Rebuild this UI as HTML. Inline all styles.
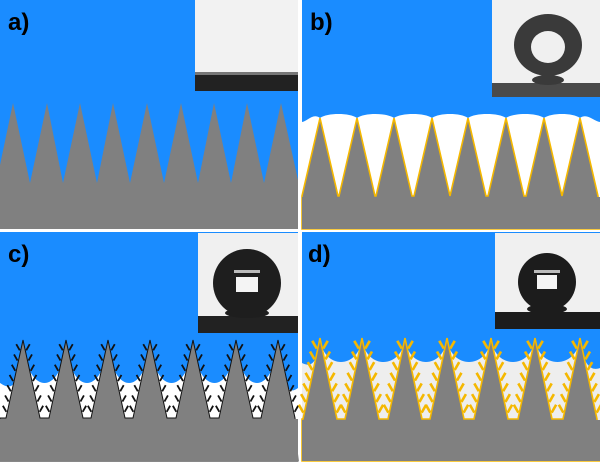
<!DOCTYPE html>
<html><head><meta charset="utf-8"><style>
html,body{margin:0;padding:0;background:#fff;width:600px;height:463px;overflow:hidden}
svg{display:block}
text{font-family:"Liberation Sans",sans-serif;font-weight:bold;font-size:24px;fill:#000}
</style></head><body>
<svg id="s" width="600" height="463" viewBox="0 0 600 463" xmlns="http://www.w3.org/2000/svg">
<rect width="600" height="463" fill="#fff"/>
<rect x="0" y="0" width="298" height="229" fill="#1a8cff"/>
<polygon fill="#808080" points="0,165 13,103 30,183 47,103 63,183 80,103 97,183 113,103 130,183 147,103 164,183 181,103 198,183 214,103 231,183 247,103 264,183 281,103 298,180 298,229 0,229"/>
<rect x="195" y="0" width="103" height="91" fill="#f2f2f2"/>
<rect x="195" y="74" width="103" height="17" fill="#222"/>
<rect x="195" y="72" width="103" height="3" fill="#777"/>
<rect x="302" y="0" width="298" height="229" fill="#fff"/>
<g id="b"></g>
<rect x="492" y="0" width="108" height="97" fill="#f0f0f0"/>
<rect x="492" y="83" width="108" height="14" fill="#4a4a4a"/>
<path fill="#3a3a3a" fill-rule="evenodd" d="M514,45 a34,31 0 1,0 68,0 a34,31 0 1,0 -68,0 Z M531,47 a17,16 0 1,0 34,0 a17,16 0 1,0 -34,0 Z"/>
<ellipse cx="548" cy="80" rx="16" ry="5" fill="#3a3a3a"/>
<rect x="0" y="232" width="298" height="229" fill="#fff"/>
<g id="c"></g>
<rect x="198" y="233" width="100" height="100" fill="#f0f0f0"/>
<rect x="198" y="316" width="100" height="17" fill="#222"/>
<circle cx="247" cy="283" r="34" fill="#1e1e1e"/>
<ellipse cx="247" cy="313" rx="22" ry="5" fill="#1e1e1e"/>
<rect x="236" y="277" width="22" height="15" fill="#f4f4f4"/>
<rect x="234" y="270" width="26" height="3" fill="#bbb"/>
<rect x="302" y="232" width="298" height="229" fill="#eeeeee"/>
<g id="d"></g>
<rect x="495" y="233" width="105" height="96" fill="#f0f0f0"/>
<rect x="495" y="312" width="105" height="17" fill="#1c1c1c"/>
<circle cx="547" cy="282" r="29" fill="#1c1c1c"/>
<ellipse cx="547" cy="309" rx="20" ry="5" fill="#1c1c1c"/>
<rect x="537" y="275" width="20" height="14" fill="#f4f4f4"/>
<rect x="534" y="270" width="26" height="3" fill="#bbb"/>
<text x="8" y="30">a)</text>
<text x="310" y="30">b)</text>
<text x="8" y="262">c)</text>
<text x="308" y="262">d)</text>
</svg>
<script>
var NS="http://www.w3.org/2000/svg";
function el(g,t,a){var e=document.createElementNS(NS,t);for(var k in a)e.setAttribute(k,a[k]);g.appendChild(e);return e;}
function panel(id,x0,x1,y0,y1,tips,tipY,baseY,hw,B,opts){
  var g=document.getElementById(id);
  var p=tips[1]-tips[0];
  var ctrl=tipY+(B-tipY)/0.75;
  var c1=opts.cf;
  var d="M"+x0+","+y0+" L"+x1+","+y0+" L"+x1+","+opts.edgeR;
  var last=tips[tips.length-1];
  d+=" C"+(x1-(x1-last)*0.3)+","+(opts.edgeR+(ctrl-B)*0.3)+" "+(last+p*c1)+","+ctrl+" "+last+","+tipY;
  for(var i=tips.length-1;i>0;i--){
    var a=tips[i-1],b=tips[i];
    d+=" C"+(b-p*c1)+","+ctrl+" "+(a+p*c1)+","+ctrl+" "+a+","+tipY;
  }
  var f=tips[0];
  d+=" C"+(f-p*c1)+","+ctrl+" "+(x0+(f-x0)*0.3)+","+(opts.edgeL+(ctrl-B)*0.3)+" "+x0+","+opts.edgeL+" Z";
  el(g,"path",{d:d,fill:"#1a8cff"});
  var s="M"+x0+","+y1+" L"+x0+","+(opts.leftStart);
  for(var i=0;i<tips.length;i++){
    var t=tips[i];
    if(i>0||t-hw>x0) s+=" L"+Math.max(x0,t-hw)+","+ (t-hw<x0?tipY+(baseY-tipY)*(t-x0)/hw:baseY);
    s+=" L"+t+","+tipY+" L"+Math.min(x1,t+hw)+","+(t+hw>x1?tipY+(baseY-tipY)*(x1-t)/hw:baseY);
  }
  s+=" L"+x1+","+y1+" Z";
  el(g,"path",{d:s,fill:"#808080",stroke:opts.outline||"none","stroke-width":opts.ow||0,"stroke-linejoin":"miter"});
  el(g,"rect",{x:x0,y:baseY+1,width:x1-x0,height:y1-baseY-1,fill:"#808080"});
  if(opts.hair){
    for(var i=0;i<tips.length;i++){
      var t=tips[i];
      for(var k=0;k<opts.n;k++){
        var fr=(k+1)/(opts.n+0.6);
        var yy=tipY+fr*(baseY-tipY);
        var dx=hw*(yy-tipY)/(baseY-tipY);
        [-1,1].forEach(function(sg){
          var sx=t+sg*(dx+1), sy=yy;
          if(sx<x0+1||sx>x1-1)return;
          var ex=sx+sg*opts.hl*0.5, ey=sy-opts.hl*0.87;
          el(g,"line",{x1:sx,y1:sy,x2:ex,y2:ey,stroke:opts.hair,"stroke-width":opts.hw,"stroke-linecap":"butt"});
        });
      }
    }
  }
}
panel("b",302,600,0,229,[320,357,394,432,468,506,544,580],118,196,18,114,{cf:0.2,edgeR:122,edgeL:122,leftStart:196,outline:"#f5b800",ow:1.6});
panel("c",0,298,232,461,[23,66,108,150,193,236,278],340,418,17,383,{cf:0.07,edgeR:388,edgeL:383,leftStart:418,hair:"#111",hw:1.8,hl:7,n:7,outline:"#111",ow:1});
panel("d",302,600,232,461,[320,362,405,447,491,535,580],338,419,17,362,{cf:0.07,edgeR:368,edgeL:363,leftStart:419,hair:"#f5b800",hw:2.6,hl:9,n:7,outline:"#f5b800",ow:1.6});
</script>
</body></html>
